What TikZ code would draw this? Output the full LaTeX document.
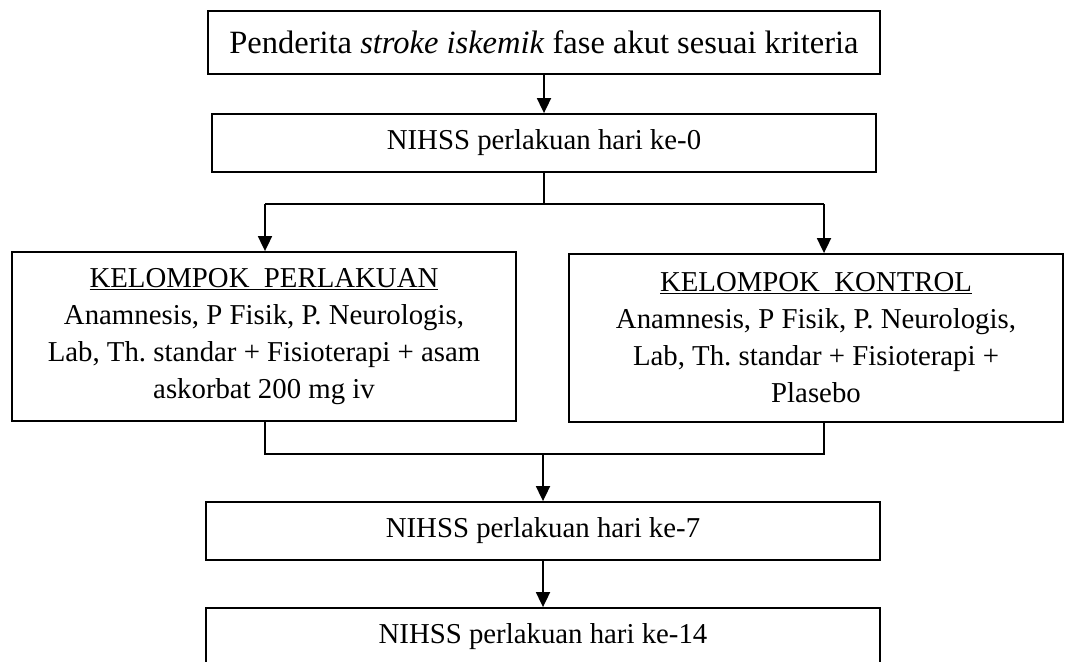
\documentclass[tikz,border=0pt]{standalone}
\usepackage{fontspec}
\setmainfont{Liberation Serif}
\usetikzlibrary{arrows.meta}
\frenchspacing
\tikzset{
  box/.style={draw, line width=1.8pt, inner sep=0pt, align=center, font=\fontsize{28.8}{37}\selectfont},
  conn/.style={line width=1.8pt},
  arr/.style={line width=1.8pt, -{Triangle[length=15pt,width=14pt]}}
}
\begin{document}
\begin{tikzpicture}[x=1pt,y=-1pt]
\useasboundingbox (0,0) rectangle (1065,661);
\clip (0,0) rectangle (1065,661);
\fill[white] (0,0) rectangle (1065,661);
\node[box, minimum width=672pt, minimum height=63pt, font=\fontsize{32.5}{38}\selectfont] (top) at (544,42.5) {Penderita \textit{stroke iskemik} fase akut sesuai kriteria};
\node[box, minimum width=664pt, minimum height=58pt] (b0) at (544,143) {NIHSS perlakuan hari ke-0};
\node[box, minimum width=504pt, minimum height=169pt] (left) at (264,336.5) {\underline{KELOMPOK\ \ PERLAKUAN}\\Anamnesis, P Fisik, P. Neurologis,\\Lab, Th. standar + Fisioterapi + asam\\askorbat 200 mg iv};
\node[box, minimum width=494pt, minimum height=168pt] (right) at (816,338) {\underline{KELOMPOK\ \ KONTROL}\\Anamnesis, P Fisik, P. Neurologis,\\Lab, Th. standar + Fisioterapi +\\Plasebo};
\node[box, minimum width=674pt, minimum height=58pt] (b7) at (543,531) {NIHSS perlakuan hari ke-7};
\node[box, minimum width=674pt, minimum height=58pt] (b14) at (543,637) {NIHSS perlakuan hari ke-14};
\coordinate (s) at (544,204);
\coordinate (sl) at (265,204);
\coordinate (sr) at (824,204);
\coordinate (jl) at (265,454);
\coordinate (jr) at (824,454);
\coordinate (jm) at (543,454);
\draw[arr] (top.south) -- (b0.north);
\draw[conn] (b0.south) -- (s);
\draw[conn] (sl) -- (sr);
\draw[arr] (sl) -- (sl |- left.north);
\draw[arr] (sr) -- (sr |- right.north);
\draw[conn] (jl |- left.south) -- (jl) -- (jr) -- (jr |- right.south);
\draw[arr] (jm) -- (b7.north);
\draw[arr] (b7.south) -- (b14.north);
\end{tikzpicture}
\end{document}
